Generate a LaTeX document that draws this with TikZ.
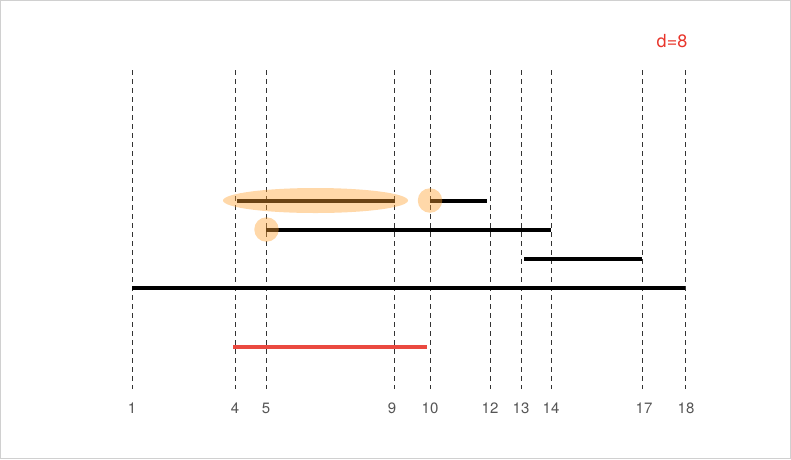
\documentclass[tikz,border=0pt]{standalone}
\usepackage{fontspec}
\setmainfont{TeX Gyre Heros}
\usetikzlibrary{shapes.geometric}
\definecolor{framegray}{HTML}{D0D0D0}
\definecolor{dashgray}{HTML}{333333}
\definecolor{labelgray}{HTML}{555555}
\definecolor{hlorange}{RGB}{255,162,50}
\definecolor{redline}{HTML}{E8352B}
\begin{document}
\begin{tikzpicture}[x=1pt,y=-1pt,
  guide/.style={dashgray,dashed,dash pattern=on 5pt off 4pt,line width=0.8pt},
  seg/.style={black,line width=3.6pt},
  hl/.style={fill=hlorange,fill opacity=0.42,draw=none},
  tick/.style={text=labelgray,font=\fontsize{15}{17}\selectfont,inner sep=0pt},
  dlabel/.style={text=redline,font=\fontsize{18}{20}\selectfont,inner sep=0pt}]
\useasboundingbox (0,0) rectangle (791,459);
\draw[framegray,line width=1pt] (0.5,0.5) rectangle (790.5,458.5);
% guide lines and labels
\foreach \n/\x/\lx in {1/132/132,4/235/235,5/266/266,9/394/392,10/430/430,12/490/490,13/521/521,14/551/551,17/642/644,18/685/686}{
  \coordinate (t\n) at (\x,70);
  \coordinate (b\n) at (\x,389);
  \draw[guide] (t\n) -- (b\n);
  \node[tick] (l\n) at (\lx,408) {\n};
}
% segments
\coordinate (s1a) at (237,201); \coordinate (s1b) at (395,201);
\coordinate (s2a) at (430,201); \coordinate (s2b) at (487,201);
\coordinate (s3a) at (266,230); \coordinate (s3b) at (551,230);
\coordinate (s4a) at (524,259); \coordinate (s4b) at (642,259);
\coordinate (s5a) at (132,288); \coordinate (s5b) at (685,288);
\draw[seg] (s1a) -- (s1b);
\draw[seg] (s2a) -- (s2b);
\draw[seg] (s3a) -- (s3b);
\draw[seg] (s4a) -- (s4b);
\draw[seg] (s5a) -- (s5b);
% highlights
\node[hl,ellipse,minimum width=185pt,minimum height=25pt,inner sep=0pt] (e1) at (315.5,200.5) {};
\node[hl,circle,minimum size=24.5pt,inner sep=0pt] (c1) at (430,200.5) {};
\node[hl,circle,minimum size=24.5pt,inner sep=0pt] (c2) at (266.5,229.5) {};
% red result line
\coordinate (ra) at (233,347); \coordinate (rb) at (427,347);
\draw[redline,line width=3.2pt,opacity=0.9] (ra) -- (rb);
\node[dlabel] (d) at (672,41) {d=8};
\end{tikzpicture}
\end{document}
